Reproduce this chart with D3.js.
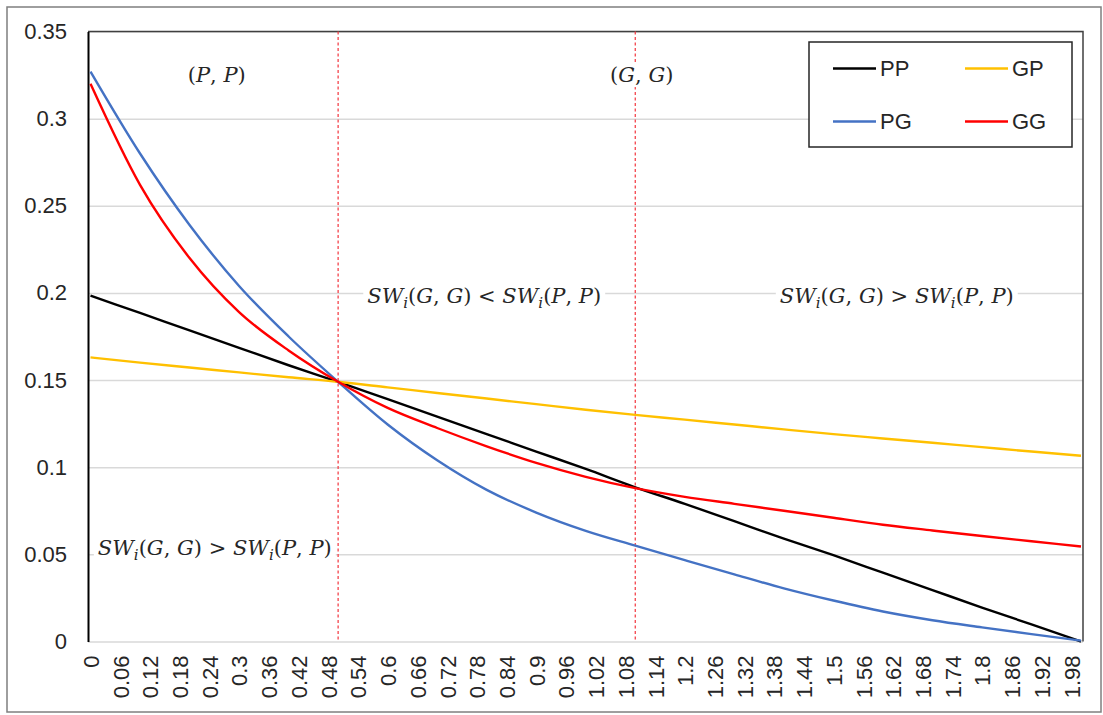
<!DOCTYPE html>
<html>
<head>
<meta charset="utf-8">
<script src="https://cdn.jsdelivr.net/npm/d3@7"></script>
<style>
  body { margin: 0; background: #fff; }
  svg { display: block; }
</style>
</head>
<body>
<div id="app"></div>
<script>
// values
const xValues = [0, 0.1, 0.2, 0.3, 0.4, 0.5, 0.6, 0.7, 0.8, 0.9, 1.0,
                 1.1, 1.2, 1.3, 1.4, 1.5, 1.6, 1.7, 1.8, 1.9, 2.0];
const ppValues = [0.1985, 0.1885, 0.1785, 0.1685, 0.1585, 0.149, 0.139, 0.129, 0.119, 0.109, 0.099,
                  0.0885, 0.079, 0.069, 0.059, 0.0495, 0.0395, 0.0295, 0.0195, 0.0098, 0];
const gpValues = [0.163, 0.160, 0.1572, 0.1544, 0.1516, 0.149, 0.1458, 0.1426, 0.1394, 0.1362, 0.133,
                  0.130, 0.1273, 0.1245, 0.1217, 0.119, 0.1165, 0.114, 0.1115, 0.109, 0.1066];
const pgValues = [0.327, 0.280, 0.239, 0.204, 0.175, 0.149, 0.1245, 0.104, 0.087, 0.074, 0.0635,
                  0.055, 0.0467, 0.0385, 0.0305, 0.0235, 0.0172, 0.0122, 0.0081, 0.0042, 0.0005];
const ggValues = [0.320, 0.262, 0.220, 0.189, 0.167, 0.149, 0.134, 0.1225, 0.112, 0.1025, 0.0945,
                  0.088, 0.083, 0.079, 0.075, 0.071, 0.067, 0.0637, 0.0605, 0.0575, 0.0545];
const seriesNames = ["PP", "GP", "PG", "GG"];
const xTickValues = [0, 0.06, 0.12, 0.18, 0.24, 0.3, 0.36, 0.42, 0.48, 0.54, 0.6, 0.66, 0.72, 0.78,
                     0.84, 0.9, 0.96, 1.02, 1.08, 1.14, 1.2, 1.26, 1.32, 1.38, 1.44, 1.5, 1.56,
                     1.62, 1.68, 1.74, 1.8, 1.86, 1.92, 1.98];
const yTickValues = [0, 0.05, 0.1, 0.15, 0.2, 0.25, 0.3, 0.35];
const thresholds = [0.5, 1.1];

const colors = {PP: "#000000", GP: "#FFC000", PG: "#4472C4", GG: "#FF0000"};
const series = [
    {name: "PP", values: ppValues},
    {name: "GP", values: gpValues},
    {name: "PG", values: pgValues},
    {name: "GG", values: ggValues}
];

const W = 1103, H = 715;
const plot = {left: 88, right: 1083, top: 31.5, bottom: 641.5};
const sansFont = "'Liberation Sans', Arial, sans-serif";

const svg = d3.select("#app").append("svg")
    .attr("width", W)
    .attr("height", H);

svg.append("rect").attr("width", W).attr("height", H).attr("fill", "#fff");
// outer chart frame
svg.append("rect")
    .attr("x", 7).attr("y", 7)
    .attr("width", 1094).attr("height", 705)
    .attr("fill", "none")
    .attr("stroke", "#7f7f7f")
    .attr("stroke-width", 1.5);

const x = d3.scaleLinear().domain([0, 2]).range([90.5, 1081]);
const y = d3.scaleLinear().domain([0, 0.35]).range([plot.bottom, plot.top]);

// gridlines
svg.append("g")
    .attr("transform", `translate(${plot.left},0)`)
    .call(d3.axisLeft(y).tickValues(yTickValues).tickSize(-(plot.right - plot.left)).tickFormat(""))
    .call(g => g.select(".domain").remove())
    .call(g => g.selectAll("line").attr("stroke", "#d9d9d9").attr("stroke-width", 1.5));

// plot border (top/right)
svg.append("path")
    .attr("d", `M${plot.left},${plot.top}H${plot.right}V${plot.bottom}`)
    .attr("fill", "none")
    .attr("stroke", "#404040")
    .attr("stroke-width", 1.5);

// y axis
svg.append("g")
    .attr("transform", `translate(${plot.left},0)`)
    .call(d3.axisLeft(y).tickValues(yTickValues).tickSize(0).tickPadding(21)
        .tickFormat(d => String(d)))
    .call(g => g.select(".domain").attr("stroke", "#000").attr("stroke-width", 2))
    .call(g => g.selectAll("text")
        .attr("font-family", sansFont)
        .attr("font-size", 22)
        .attr("fill", "#262626"));

// x axis
svg.append("g")
    .attr("transform", `translate(0,${plot.bottom})`)
    .call(d3.axisBottom(x).tickValues(xTickValues).tickSize(0)
        .tickFormat(d => String(+d.toFixed(2))))
    .call(g => g.select(".domain").remove())
    .call(g => g.selectAll("text")
        .attr("transform", "rotate(-90)")
        .attr("x", -14)
        .attr("y", 0)
        .attr("dy", "0.36em")
        .attr("text-anchor", "end")
        .attr("font-family", sansFont)
        .attr("font-size", 22)
        .attr("fill", "#262626"));

// threshold lines
svg.append("g").selectAll("line")
    .data(thresholds)
    .join("line")
    .attr("x1", d => x(d)).attr("x2", d => x(d))
    .attr("y1", plot.top).attr("y2", plot.bottom)
    .attr("stroke", "#f4434b")
    .attr("stroke-width", 1.3)
    .attr("stroke-dasharray", "3,2.5");

// annotations
const annoLayer = svg.append("g");
function mathLabel(tx, ty, parts) {
    const bg = annoLayer.append("rect").attr("fill", "#fff");
    const t = annoLayer.append("text")
        .attr("x", x(tx))
        .attr("y", y(ty))
        .attr("dy", 7)
        .attr("text-anchor", "middle")
        .attr("font-family", "'DejaVu Serif', 'Liberation Serif', serif")
        .attr("font-size", 21)
        .attr("fill", "#262626");
    parts.forEach(p => {
        const s = t.append("tspan").text(p.t);
        if (p.i) s.attr("font-style", "italic");
        if (p.sub) s.attr("font-size", 15).attr("dy", 5);
        if (p.up) s.attr("dy", -5);
    });
    const b = t.node().getBBox();
    bg.attr("x", b.x - 4).attr("y", b.y).attr("width", b.width + 8).attr("height", b.height);
}
const pair = (a, b) => [
    {t: "("}, {t: a, i: true}, {t: ", "}, {t: b, i: true}, {t: ")"}
];
const sw = (a, b) => [
    {t: "SW", i: true}, {t: "i", i: true, sub: true},
    {t: "(", up: true}, {t: a, i: true}, {t: ", "}, {t: b, i: true}, {t: ")"}
];
mathLabel(0.255, 0.325, pair("P", "P"));
mathLabel(1.113, 0.325, pair("G", "G"));
mathLabel(0.795, 0.198, [...sw("G", "G"), {t: " < "}, ...sw("P", "P")]);
mathLabel(1.628, 0.198, [...sw("G", "G"), {t: " > "}, ...sw("P", "P")]);
mathLabel(0.251, 0.0535, [...sw("G", "G"), {t: " > "}, ...sw("P", "P")]);

// series lines
const line = d3.line()
    .x((d, i) => x(xValues[i]))
    .y(d => y(d))
    .curve(d3.curveMonotoneX);

svg.append("g").selectAll("path")
    .data(series)
    .join("path")
    .attr("fill", "none")
    .attr("stroke", d => colors[d.name])
    .attr("stroke-width", 2.4)
    .attr("stroke-linejoin", "round")
    .attr("d", d => line(d.values));

// legend
const legend = svg.append("g");
legend.append("rect")
    .attr("x", 809).attr("y", 42)
    .attr("width", 263).attr("height", 105)
    .attr("fill", "#fff")
    .attr("stroke", "#262626")
    .attr("stroke-width", 1.5);
const legendPos = {PP: [833, 68.5], GP: [965, 68.5], PG: [833, 121.5], GG: [965, 121.5]};
seriesNames.forEach(n => {
    const [lx, ly] = legendPos[n];
    legend.append("line")
        .attr("x1", lx).attr("x2", lx + 43)
        .attr("y1", ly).attr("y2", ly)
        .attr("stroke", colors[n])
        .attr("stroke-width", 2.4);
    legend.append("text")
        .attr("x", lx + 47).attr("y", ly)
        .attr("dy", "0.36em")
        .attr("font-family", sansFont)
        .attr("font-size", 22)
        .attr("fill", "#262626")
        .text(n);
});
</script>
</body>
</html>
